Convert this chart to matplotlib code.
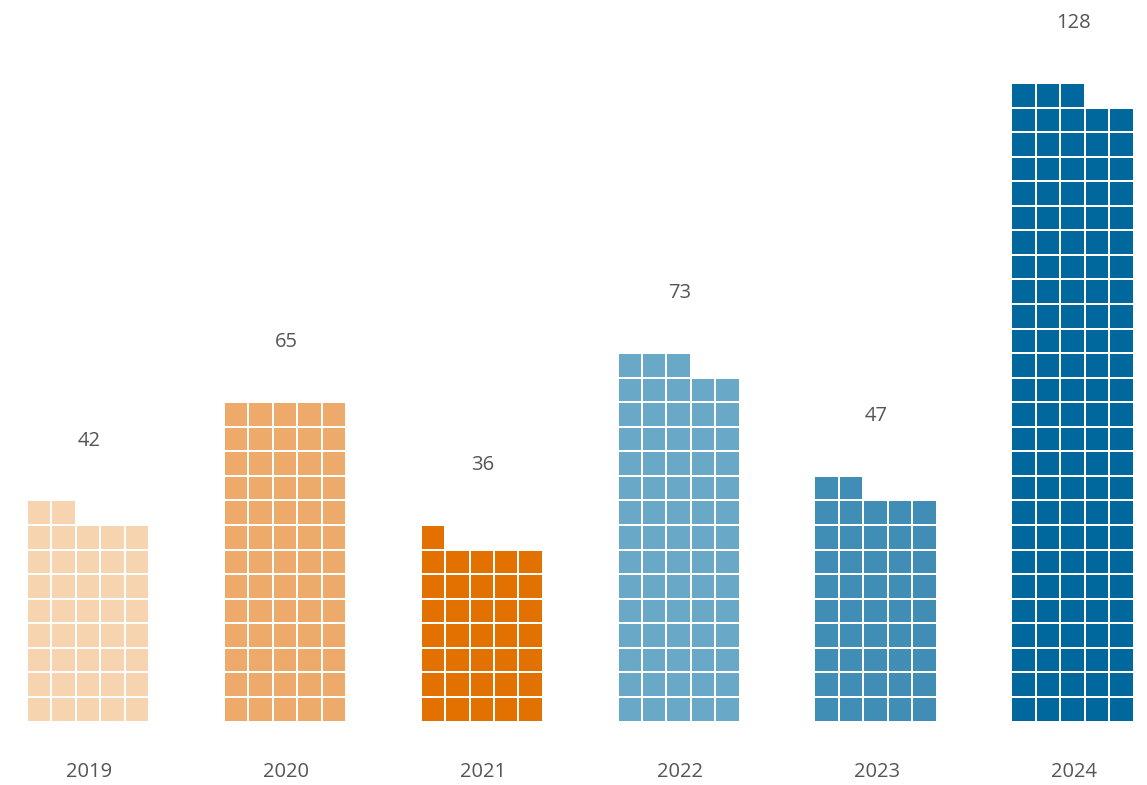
import matplotlib
matplotlib.use("Agg")
import matplotlib.pyplot as plt

years = ["2019", "2020", "2021", "2022", "2023", "2024"]
values = [42, 65, 36, 73, 47, 128]
colors = ["#f7d4b0", "#eeaa6a", "#e27100", "#6aa8c8", "#408eb5", "#00689c"]
per_row = 5

W, H, DPI = 1147, 785, 100
fig = plt.figure(figsize=(W / DPI, H / DPI), dpi=DPI)
ax = fig.add_axes([0, 0, 1, 1])

cell_px = 24.45
group_px = 196.9
first_center_px = 89.0
base_px = 64.5
row_px = 24.56

# x in cell units, y in row units
group_pitch = group_px / cell_px
x0 = first_center_px / cell_px
gap_x = 2.0 / cell_px
gap_y = 2.0 / row_px

for gi, (yr, v, c) in enumerate(zip(years, values, colors)):
    center = x0 + gi * group_pitch
    left = center - per_row / 2
    xs, bottoms = [], []
    for k in range(v):
        r, col = divmod(k, per_row)
        xs.append(left + col)
        bottoms.append(r)
    ax.bar(xs, [1 - gap_y] * len(xs), width=1 - gap_x, bottom=bottoms,
           align="edge", color=c, linewidth=0)
    n_rows = -(-v // per_row)
    ax.text(center, n_rows + 2.4, str(v), ha="center", va="center",
            fontsize=14.5, color="#555555", family="Open Sans")
    ax.text(center, -2.1, yr, ha="center", va="center",
            fontsize=14.5, color="#555555", family="Open Sans")

ax.set_xlim(0, W / cell_px)
ax.set_ylim(-base_px / row_px, (H - base_px) / row_px)
ax.axis("off")
fig.savefig("out.png", dpi=DPI, facecolor="white")
